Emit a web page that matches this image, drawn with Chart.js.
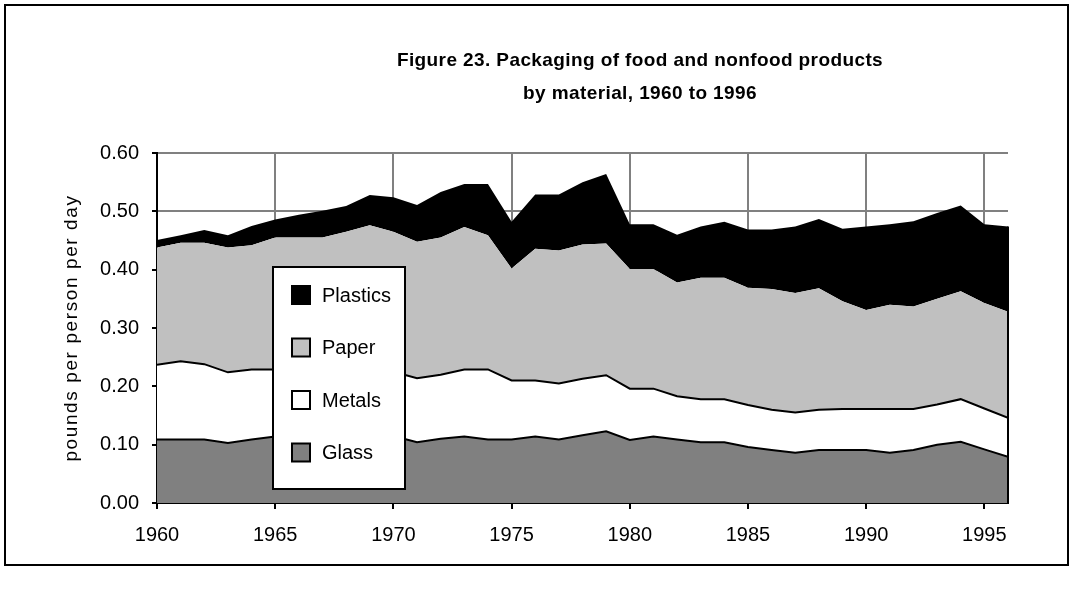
<!DOCTYPE html>
<html>
<head>
<meta charset="utf-8">
<title>Figure 23. Packaging of food and nonfood products</title>
<script src="https://cdn.jsdelivr.net/npm/chart.js@4.4.1/dist/chart.umd.min.js"></script>
<style>
  html, body { margin: 0; padding: 0; background: #ffffff; }
  #wrap { width: 1074px; height: 591px; }
</style>
</head>
<body>
<div id="wrap"><canvas id="packagingChart" width="1074" height="591"></canvas></div>
<script>
// ===================================================================
// Packaging of food and nonfood products by material, 1960 to 1996
// pounds per person per day, stacked area (Chart.js v4)
// ===================================================================

const years = [
  1960, 1961, 1962, 1963, 1964, 1965, 1966, 1967, 1968, 1969,
  1970, 1971, 1972, 1973, 1974, 1975, 1976, 1977, 1978, 1979,
  1980, 1981, 1982, 1983, 1984, 1985, 1986, 1987, 1988, 1989,
  1990, 1991, 1992, 1993, 1994, 1995, 1996,
];

const glass = [
  0.109, 0.109, 0.109, 0.103, 0.109, 0.114, 0.115, 0.115, 0.115, 0.115,
  0.115, 0.104, 0.110, 0.114, 0.109, 0.109, 0.114, 0.109, 0.116, 0.123,
  0.108, 0.114, 0.109, 0.104, 0.104, 0.096, 0.091, 0.086, 0.091, 0.091,
  0.091, 0.086, 0.091, 0.100, 0.105, 0.092, 0.079,
];

const metals = [
  0.128, 0.134, 0.129, 0.121, 0.120, 0.115, 0.114, 0.114, 0.114, 0.113,
  0.110, 0.110, 0.110, 0.115, 0.120, 0.101, 0.096, 0.096, 0.097, 0.096,
  0.088, 0.082, 0.074, 0.074, 0.074, 0.072, 0.069, 0.069, 0.069, 0.070,
  0.070, 0.075, 0.070, 0.069, 0.073, 0.070, 0.067,
];

const paper = [
  0.201, 0.203, 0.208, 0.214, 0.213, 0.226, 0.226, 0.226, 0.236, 0.248,
  0.240, 0.234, 0.235, 0.244, 0.230, 0.192, 0.226, 0.228, 0.230, 0.226,
  0.205, 0.205, 0.195, 0.208, 0.208, 0.201, 0.207, 0.205, 0.208, 0.185,
  0.170, 0.179, 0.176, 0.181, 0.185, 0.181, 0.182,
];

const plastics = [
  0.013, 0.013, 0.022, 0.021, 0.033, 0.031, 0.039, 0.046, 0.044, 0.052,
  0.059, 0.063, 0.078, 0.074, 0.088, 0.080, 0.093, 0.096, 0.107, 0.119,
  0.077, 0.077, 0.082, 0.088, 0.096, 0.100, 0.102, 0.114, 0.119, 0.124,
  0.143, 0.138, 0.146, 0.147, 0.147, 0.135, 0.146,
];

const titleLines = [
  'Figure 23. Packaging of food and nonfood products',
  'by material, 1960 to 1996',
];
const yAxisTitle = 'pounds per person per day';

const FONT_FAMILY = '"Liberation Sans", Arial, Helvetica, sans-serif';

const COLORS = {
  glass: '#808080',
  metals: '#ffffff',
  paper: '#c0c0c0',
  plastics: '#000000',
  grid: '#808080',
  axis: '#000000',
  text: '#000000',
};

function toPoints(values) {
  return years.map((yr, i) => ({ x: yr, y: values[i] }));
}

// white page + outer frame
const framePlugin = {
  id: 'frame',
  beforeDraw(chart) {
    const ctx = chart.ctx;
    ctx.save();
    ctx.fillStyle = '#ffffff';
    ctx.fillRect(0, 0, chart.width, chart.height);
    ctx.strokeStyle = '#000000';
    ctx.lineWidth = 2;
    ctx.strokeRect(5, 5, 1063, 560);
    ctx.restore();
  },
};

// two-line bold title over the plot, plus the rotated y-axis caption
const textPlugin = {
  id: 'figureText',
  afterDraw(chart) {
    const ctx = chart.ctx;
    const area = chart.chartArea;
    ctx.save();
    ctx.fillStyle = COLORS.text;
    ctx.textAlign = 'center';
    ctx.textBaseline = 'middle';
    ctx.font = `bold 19px ${FONT_FAMILY}`;
    ctx.letterSpacing = '0.4px';
    ctx.fillText(titleLines[0], 640, 61);
    ctx.fillText(titleLines[1], 640, 94);

    ctx.font = `19px ${FONT_FAMILY}`;
    ctx.letterSpacing = '1.6px';
    ctx.translate(72, (area.top + area.bottom) / 2);
    ctx.rotate(-Math.PI / 2);
    ctx.fillText(yAxisTitle, 0, 0);
    ctx.restore();
  },
};

// closing edge of the stacked area at the last year
const rightEdgePlugin = {
  id: 'rightEdge',
  afterDatasetsDraw(chart) {
    const { x, y } = chart.scales;
    const last = years.length - 1;
    const total = glass[last] + metals[last] + paper[last] + plastics[last];
    const px = x.getPixelForValue(years[last]);
    const ctx = chart.ctx;
    ctx.save();
    ctx.strokeStyle = '#000000';
    ctx.lineWidth = 2;
    ctx.beginPath();
    ctx.moveTo(px, y.getPixelForValue(0));
    ctx.lineTo(px, y.getPixelForValue(total));
    ctx.stroke();
    ctx.restore();
  },
};

// boxed legend sitting inside the plot area
const insideLegendPlugin = {
  id: 'insideLegend',
  afterDraw(chart) {
    const ctx = chart.ctx;
    const box = { left: 273, top: 267, width: 132, height: 222 };
    ctx.save();
    ctx.fillStyle = '#ffffff';
    ctx.fillRect(box.left, box.top, box.width, box.height);
    ctx.strokeStyle = '#000000';
    ctx.lineWidth = 2;
    ctx.strokeRect(box.left, box.top, box.width, box.height);

    const items = chart.data.datasets.slice().reverse();
    ctx.font = `20px ${FONT_FAMILY}`;
    ctx.textBaseline = 'middle';
    ctx.textAlign = 'left';
    items.forEach((ds, i) => {
      const cy = 295 + i * 52.5;
      ctx.fillStyle = ds.backgroundColor;
      ctx.fillRect(292, cy - 9, 18, 18);
      ctx.strokeStyle = '#000000';
      ctx.lineWidth = 2;
      ctx.strokeRect(292, cy - 9, 18, 18);
      ctx.fillStyle = COLORS.text;
      ctx.fillText(ds.label, 322, cy + 1);
    });
    ctx.restore();
  },
};

function areaDataset(label, values, color, fill, borderWidth) {
  return {
    label: label,
    data: toPoints(values),
    backgroundColor: color,
    borderColor: '#000000',
    borderWidth: borderWidth,
    fill: fill,
    pointRadius: 0,
    pointHoverRadius: 0,
    tension: 0,
  };
}

const ctx = document.getElementById('packagingChart').getContext('2d');

const packagingChart = new Chart(ctx, {
  type: 'line',
  data: {
    datasets: [
      areaDataset('Glass', glass, COLORS.glass, 'origin', 2),
      areaDataset('Metals', metals, COLORS.metals, '-1', 2),
      areaDataset('Paper', paper, COLORS.paper, '-1', 0),
      areaDataset('Plastics', plastics, COLORS.plastics, '-1', 0),
    ],
  },
  options: {
    responsive: false,
    animation: false,
    devicePixelRatio: 1,
    layout: {
      padding: { left: 50, top: 153, right: 66, bottom: 0 },
    },
    plugins: {
      legend: { display: false },
      title: { display: false },
      tooltip: { enabled: false },
    },
    scales: {
      x: {
        type: 'linear',
        min: 1960,
        max: 1996,
        afterFit(scale) { scale.height = 88; },
        ticks: {
          stepSize: 5,
          includeBounds: false,
          color: COLORS.text,
          padding: 14,
          font: { family: FONT_FAMILY, size: 20 },
          callback: (v) => String(v),
        },
        grid: {
          color: COLORS.grid,
          tickColor: COLORS.axis,
          lineWidth: 2,
          tickLength: 6,
        },
        border: { color: COLORS.axis, width: 2 },
      },
      y: {
        stacked: true,
        min: 0,
        max: 0.6,
        afterFit(scale) { scale.width = 107; },
        ticks: {
          stepSize: 0.1,
          color: COLORS.text,
          padding: 13,
          font: { family: FONT_FAMILY, size: 20 },
          callback: (v) => Number(v).toFixed(2),
        },
        grid: {
          color: COLORS.grid,
          tickColor: COLORS.axis,
          lineWidth: 2,
          tickLength: 5,
        },
        border: { color: COLORS.axis, width: 2 },
      },
    },
  },
  plugins: [framePlugin, rightEdgePlugin, insideLegendPlugin, textPlugin],
});
</script>
</body>
</html>
